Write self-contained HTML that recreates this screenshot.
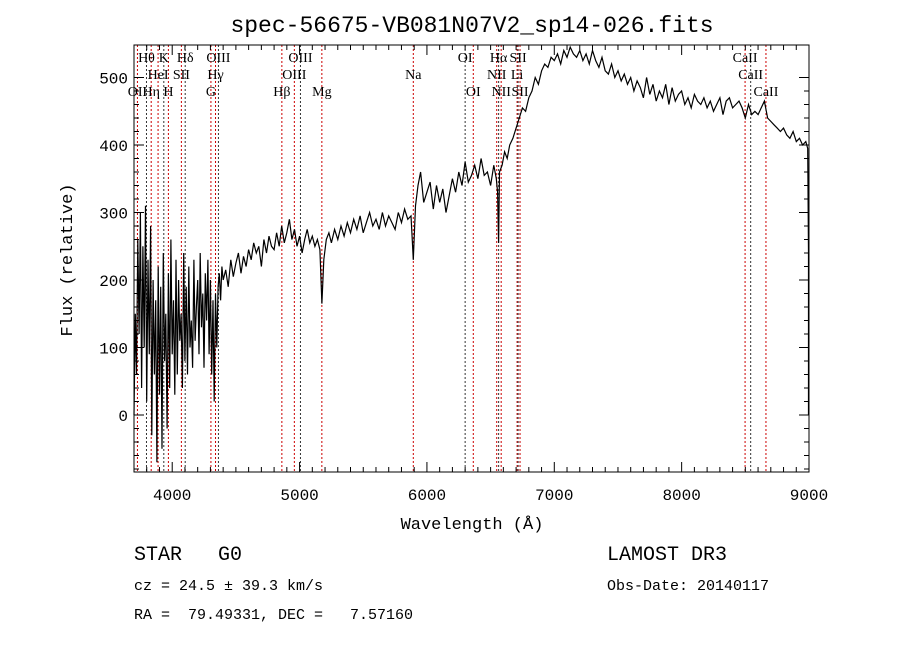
<!DOCTYPE html>
<html><head><meta charset="utf-8"><style>
body{margin:0;background:#fff;}
svg{display:block;}
text{font-family:"Liberation Mono",monospace;fill:#000;white-space:pre;}
.ln{font-family:"Liberation Serif",serif;font-size:14px;}
</style></head><body>
<svg id="chart" width="900" height="649" viewBox="0 0 900 649" xmlns="http://www.w3.org/2000/svg" xml:space="preserve">
<text x="472" y="32" text-anchor="middle" font-size="23">spec-56675-VB081N07V2_sp14-026.fits</text>
<g id="lines"></g>
<g id="labels"></g>
<path id="spec" fill="none" stroke="#000" stroke-width="1.2"/>
<rect x="134" y="45" width="675" height="427" fill="none" stroke="#000" stroke-width="1"/>
<g id="axes"></g>
<text x="472" y="529" text-anchor="middle" font-size="17">Wavelength (Å)</text>
<text transform="translate(72,260) rotate(-90)" text-anchor="middle" font-size="17">Flux (relative)</text>
<text x="134" y="560" font-size="20">STAR   G0</text>
<text x="134" y="590" font-size="15">cz = 24.5 ± 39.3 km/s</text>
<text x="134" y="619" font-size="15">RA =  79.49331, DEC =   7.57160</text>
<text x="607" y="560" font-size="20">LAMOST DR3</text>
<text x="607" y="590" font-size="15">Obs-Date: 20140117</text>
</svg>
<script>
const waves=[3700,3710,3720,3730,3740,3750,3760,3770,3780,3790,3800,3810,3820,3830,3840,3850,3860,3870,3880,3890,3900,3910,3920,3930,3940,3950,3960,3970,3980,3990,4000,4010,4020,4030,4040,4050,4060,4070,4080,4090,4100,4110,4120,4130,4140,4150,4160,4170,4180,4190,4200,4210,4220,4230,4240,4250,4260,4270,4280,4290,4300,4310,4320,4330,4340,4350,4360,4370,4380,4390,4400,4420,4440,4460,4480,4500,4520,4540,4560,4580,4600,4620,4640,4660,4680,4700,4720,4740,4760,4780,4800,4820,4840,4860,4880,4900,4920,4940,4960,4980,5000,5020,5040,5060,5080,5100,5120,5140,5160,5175,5190,5210,5230,5250,5275,5300,5325,5350,5375,5400,5425,5450,5475,5500,5525,5550,5575,5600,5625,5650,5675,5700,5725,5750,5775,5800,5825,5850,5875,5893,5910,5930,5950,5975,6000,6025,6050,6075,6100,6125,6150,6175,6200,6225,6250,6275,6300,6325,6350,6375,6400,6425,6450,6475,6500,6525,6545,6555,6563,6570,6590,6610,6630,6650,6675,6700,6725,6750,6775,6800,6825,6850,6875,6900,6925,6950,6975,7000,7025,7050,7075,7100,7125,7150,7175,7200,7225,7250,7275,7300,7325,7350,7375,7400,7425,7450,7475,7500,7525,7550,7575,7600,7625,7650,7675,7700,7725,7750,7775,7800,7825,7850,7875,7900,7925,7950,7975,8000,8025,8050,8075,8100,8125,8150,8175,8200,8225,8250,8275,8300,8325,8350,8375,8400,8425,8450,8475,8500,8525,8550,8575,8600,8625,8650,8675,8700,8725,8750,8775,8800,8825,8850,8875,8900,8925,8950,8975,8990,8998,9000];
const flux=[0,150,60,260,120,300,40,250,100,310,20,230,90,280,-30,200,60,170,-70,220,30,190,-50,240,80,150,-20,210,40,260,90,170,30,230,60,200,110,150,40,240,80,190,60,220,100,140,70,230,110,160,200,90,240,130,180,70,210,140,230,90,200,60,170,20,180,100,190,210,170,220,200,
215,190,230,205,225,240,210,235,220,245,230,255,240,250,220,260,240,265,250,245,270,250,280,255,270,290,260,275,250,265,240,260,275,255,265,250,260,245,
165,230,260,270,255,
275,260,280,265,285,270,290,275,295,270,285,300,280,290,275,300,280,295,285,275,300,285,305,290,295,
230,310,340,360,
315,330,345,305,340,315,335,300,325,350,330,360,340,375,345,355,370,350,380,355,360,340,370,
350,330,255,360,370,390,380,400,
410,425,440,455,450,470,480,500,490,510,
520,515,530,525,535,520,540,530,545,535,
530,540,525,535,520,540,525,515,530,510,
505,520,500,510,495,505,490,500,480,495,
485,470,500,475,490,465,480,470,490,460,
485,465,475,480,460,470,455,475,465,460,
470,455,465,450,460,470,445,465,470,455,
460,465,455,440,460,445,450,445,455,465,
440,435,430,425,420,425,415,410,420,405,
410,400,405,
395,240,0];
const lineWaves=[3727,3798,3835,3889,3934,3970,4072,4102,4304,4340,4363,4861,4959,5007,5175,5893,6300,6364,6548,6563,6583,6708,6716,6731,8498,8542,8662];
const lineLabels=["OII","Hθ","Hη","HeI","K","H","SII","Hδ","G","Hγ","OIII","Hβ","OIII","OIII","Mg","Na","OI","OI","NII","Hα","NII","Li","SII","SII","CaII","CaII","CaII"];
const lineRows=[2,0,2,1,0,2,1,0,2,1,0,2,1,0,2,1,0,2,1,0,2,1,0,2,0,1,2];
const xTicks=[4000,5000,6000,7000,8000,9000];
const yTicks=[0,100,200,300,400,500];
const X=w=>134+(w-3700)*0.12736;
const Y=f=>415-f*0.675;
const ns="http://www.w3.org/2000/svg";
const lg=document.getElementById('lines'),lb=document.getElementById('labels'),ax=document.getElementById('axes');
lineWaves.forEach((w,i)=>{
  const l=document.createElementNS(ns,'line');
  
  
  l.setAttribute('x1',X(w));l.setAttribute('x2',X(w));l.setAttribute('y1',45);l.setAttribute('y2',472);
  l.setAttribute('stroke',i%3==1?'#333':'#c00');l.setAttribute('stroke-dasharray','2,2');l.setAttribute('stroke-width','1');
  lg.appendChild(l);
  const t=document.createElementNS(ns,'text');
  
  
  t.setAttribute('class','ln');t.setAttribute('x',X(w));t.setAttribute('y',62+lineRows[i]*17);t.setAttribute('text-anchor','middle');
  t.textContent=lineLabels[i];lb.appendChild(t);
});
let d='';
const n=Math.min(waves.length,flux.length);
for(let i=0;i<n;i++){const x=Math.min(X(waves[i]),808.5);d+=(i?'L':'M')+x.toFixed(1)+','+Math.max(46,Math.min(471,Y(flux[i]))).toFixed(1);}
document.getElementById('spec').setAttribute('d',d);
function seg(x1,y1,x2,y2){const l=document.createElementNS(ns,'line');l.setAttribute('x1',x1);l.setAttribute('y1',y1);l.setAttribute('x2',x2);l.setAttribute('y2',y2);l.setAttribute('stroke','#000');ax.appendChild(l);return l;}
for(let w=3800;w<=9000;w+=100){const big=w%1000==0;const a=seg(X(w),472,X(w),472-(big?10:5));const b=seg(X(w),45,X(w),45+(big?10:5));}
xTicks.forEach(w=>{const t=document.createElementNS(ns,'text');


t.setAttribute('x',X(w));t.setAttribute('y',500);t.setAttribute('text-anchor','middle');t.setAttribute('font-size','16');t.textContent=w;ax.appendChild(t);});
for(let f=-100;f<=500;f+=20){const y=Y(f);if(y<45||y>472)continue;const big=f%100==0;const a=seg(134,y,134+(big?10:5),y);const b=seg(809,y,809-(big?10:5),y);}
yTicks.forEach(f=>{const t=document.createElementNS(ns,'text');


t.setAttribute('x',128);t.setAttribute('y',Y(f)+6);t.setAttribute('text-anchor','end');t.setAttribute('font-size','16');t.textContent=f;ax.appendChild(t);});
</script>
</body></html>
